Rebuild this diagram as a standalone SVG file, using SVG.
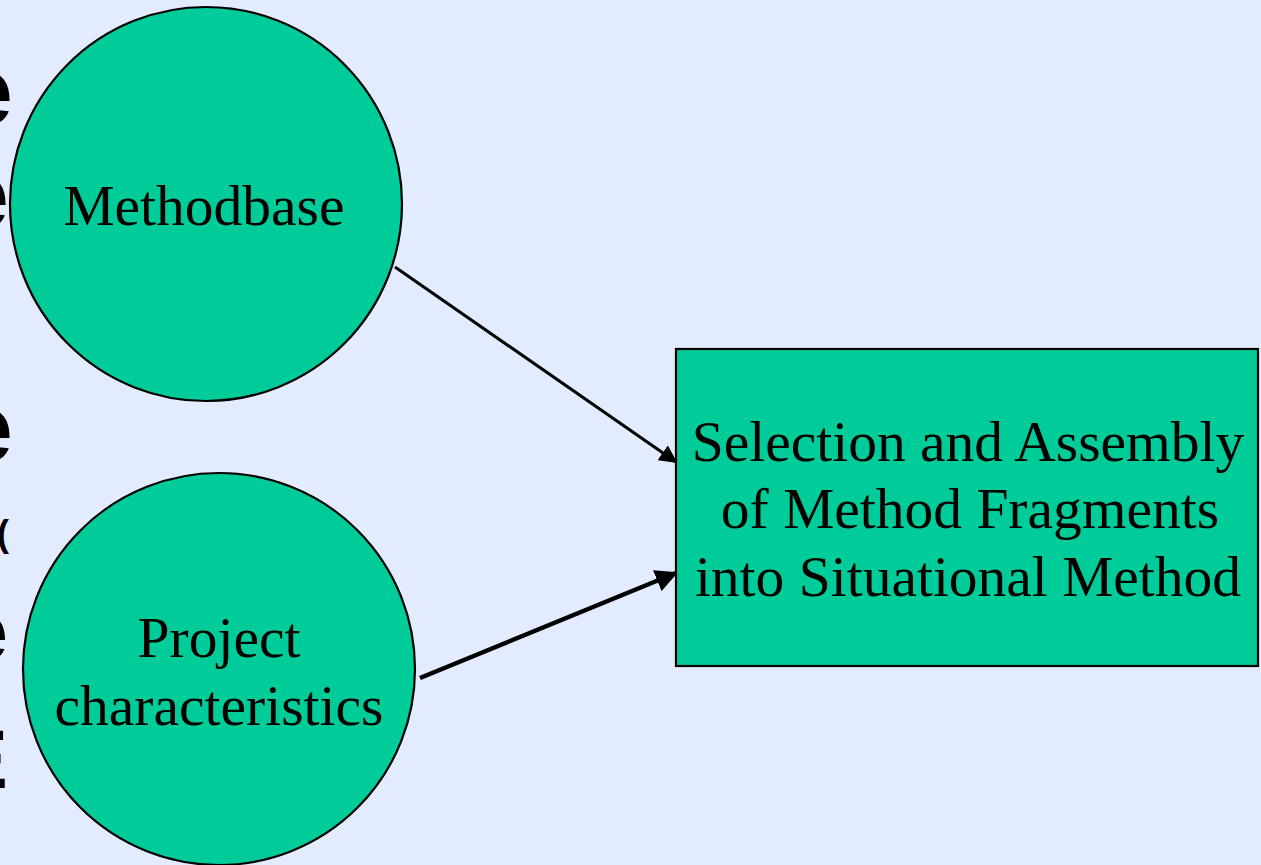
<svg xmlns="http://www.w3.org/2000/svg" width="1261" height="865" viewBox="0 0 1261 865">
  <defs>
    <style>
      .bg { fill: #E2ECFE; }
      .node { fill: #00CC99; stroke: #000; stroke-width: 2.2; }
      .label { font-family: "Liberation Serif", "Times New Roman", serif; font-size: 57.5px; fill: #000; text-anchor: middle; }
      .frag { font-family: "Liberation Sans", Arial, sans-serif; font-weight: bold; fill: #000; text-anchor: end; }
      .edge { stroke: #000; fill: none; }
    </style>
    <marker id="arrow" viewBox="0 0 10 10" refX="9" refY="5" markerWidth="6" markerHeight="6" markerUnits="strokeWidth" orient="auto">
      <path d="M0,0 L10,5 L0,10 Z" fill="#000"/>
    </marker>
    <marker id="arrowThick" viewBox="0 0 10 10" refX="9" refY="5" markerWidth="5" markerHeight="5" markerUnits="strokeWidth" orient="auto">
      <path d="M0,0 L10,5 L0,10 Z" fill="#000"/>
    </marker>
  </defs>

  <rect class="bg" x="0" y="0" width="1261" height="865"/>

  <!-- clipped letters of slide text running off the left edge -->
  <g id="edge-text">
    <text class="frag" x="13" y="124" font-size="96">e</text>
    <text class="frag" x="9" y="228" font-size="96">e</text>
    <text class="frag" x="13" y="461" font-size="96">e</text>
    <text class="frag" x="9" y="546" font-size="36">(</text>
    <text class="frag" x="8" y="660" font-size="84">e</text>
    <text class="frag" x="8" y="788" font-size="84">E</text>
  </g>

  <g id="connectors">
    <line class="edge" x1="395" y1="267" x2="676" y2="462" stroke-width="3" marker-end="url(#arrow)"/>
    <line class="edge" x1="420" y1="678" x2="676" y2="573" stroke-width="4.5" marker-end="url(#arrowThick)"/>
  </g>

  <g id="methodbase">
    <ellipse class="node" cx="206" cy="204" rx="196" ry="197"/>
    <text class="label" x="204" y="225">Methodbase</text>
  </g>

  <g id="project-characteristics">
    <ellipse class="node" cx="219" cy="669" rx="196" ry="196"/>
    <text class="label" x="219" y="657">Project</text>
    <text class="label" x="219" y="725">characteristics</text>
  </g>

  <g id="selection-assembly">
    <rect class="node" x="676" y="349" width="582" height="317" stroke-width="1.5"/>
    <text class="label" x="968" y="461">Selection and Assembly</text>
    <text class="label" x="970" y="528">of Method Fragments</text>
    <text class="label" x="968" y="596">into Situational Method</text>
  </g>
</svg>
